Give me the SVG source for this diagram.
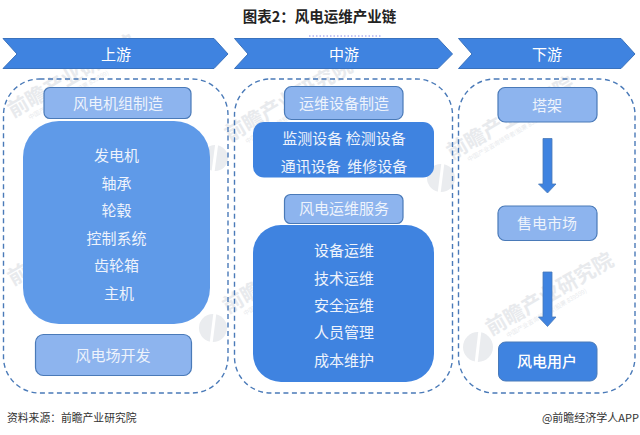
<svg xmlns="http://www.w3.org/2000/svg" width="640" height="435" viewBox="0 0 640 435">
<style>
text{font-family:"Noto Sans CJK SC","Noto Sans",sans-serif;text-anchor:middle}
.chev{fill:#3f83e0;stroke:#3a72bd;stroke-width:1}
.dash{fill:none;stroke:#4a7ab8;stroke-width:1.4;stroke-dasharray:5 3.500}
.light{fill:#8db4ee;stroke:#4a7ab8;stroke-width:1.2}
.mid{fill:#5f9ae8}
.deep{fill:#3f83e0}
.t{fill:#eef3fc;font-size:15px}
.h{fill:#fff;font-size:15px}
.arrow{fill:#3f83e0;stroke:#4a7ab8;stroke-width:.8}
.wm{fill:#e8eaed;font-size:20.500px;font-weight:700;text-anchor:start}
.wms{fill:#e8eaed;font-size:6px;text-anchor:start}
.logo{fill:#eaecef}
.cut{stroke:#fff;stroke-width:3;fill:none}
</style>
<rect width="640" height="435" fill="#fff"/>
<g id="watermark">
<g transform="translate(13,118) rotate(-30)"><text class="wm">前瞻产业研究院</text><text class="wms" x="14" y="10">中国产业咨询领导者(股票 839599)</text></g>
<g transform="translate(13,286) rotate(-30)"><text class="wm">前瞻产业研究院</text><text class="wms" x="14" y="10">中国产业咨询领导者(股票 839599)</text></g>
<g transform="translate(230,142) rotate(-30)"><text class="wm">前瞻产业研究院</text><text class="wms" x="14" y="10">中国产业咨询领导者(股票 839599)</text></g>
<g transform="translate(228,314) rotate(-30)"><text class="wm">前瞻产业研究院</text><text class="wms" x="14" y="10">中国产业咨询领导者(股票 839599)</text></g>
<g transform="translate(452,160) rotate(-30)"><text class="wm">前瞻产业研究院</text><text class="wms" x="14" y="10">中国产业咨询领导者(股票 839599)</text></g>
<g transform="translate(491,336) rotate(-30)"><text class="wm">前瞻产业研究院</text><text class="wms" x="14" y="10">中国产业咨询领导者(股票 839599)</text></g>
<g id="wm-logos">
<circle class="logo" cx="215" cy="158" r="13"/><path class="cut" d="M217 142L213 172"/>
<circle class="logo" cx="213" cy="328" r="14"/><path class="cut" d="M215 312L211 344"/>
<circle class="logo" cx="441" cy="178" r="14"/><path class="cut" d="M443 162L439 194"/>
<circle class="logo" cx="478" cy="347" r="15"/><path class="cut" d="M480 330L476 364"/>
</g>
<rect x="0" y="398" width="640" height="37" fill="#fff"/>
</g>
<text x="319.500" y="22" style="font-size:14.500px;font-weight:700;fill:#222">图表2：风电运维产业链</text>
<path d="M309 36H382" stroke="#8a8ae8" stroke-width="1" stroke-dasharray="1.500 2" fill="none"/>
<g id="connectors">
<path class="arrow" d="M543 138.500H552V184H556L547.500 193L538.500 184H543Z"/>
<path class="arrow" d="M543 272H552V317H556L547.500 326.500L538.500 317H543Z"/>
</g>
<g id="stage-up"><path class="chev" d="M3 38.500H214L228 54L214 68.500H3L17 54Z"/><text class="h" x="116" y="59.500">上游</text></g>
<g id="stage-mid"><path class="chev" d="M234.500 38.500H438L452.500 54L438 68.500H234.500L248 54Z"/><text class="h" x="344" y="59.500">中游</text></g>
<g id="stage-down"><path class="chev" d="M458.500 38.500H621L635 54L621 68.500H458.500L472 54Z"/><text class="h" x="547" y="59.500">下游</text></g>
<g id="zone-up"><rect class="dash" x="3.500" y="79" width="224.500" height="314" rx="36"/></g>
<g id="zone-mid"><rect class="dash" x="234.500" y="79" width="218" height="314" rx="36"/></g>
<g id="zone-down"><rect class="dash" x="458.500" y="79" width="176.500" height="314" rx="36"/></g>
<g id="n1"><rect class="light" x="44" y="87.500" width="147" height="31" rx="6"/><text class="t" x="118" y="109">风电机组制造</text></g>
<g id="n2"><rect class="mid" x="23" y="121" width="187" height="203" rx="36"/>
<text class="t" x="116.500" y="161">发电机</text><text class="t" x="116.500" y="189">轴承</text><text class="t" x="116.500" y="216">轮毂</text><text class="t" x="116.500" y="244">控制系统</text><text class="t" x="116.500" y="271">齿轮箱</text><text class="t" x="119" y="299">主机</text></g>
<g id="n3"><rect class="light" x="35.500" y="334.500" width="156" height="41" rx="8"/><text class="t" x="113" y="361">风电场开发</text></g>
<g id="n4"><rect class="light" x="284.500" y="86.500" width="118.500" height="33" rx="7"/><text class="t" x="344" y="109">运维设备制造</text></g>
<g id="n5"><rect class="deep" x="253" y="122" width="181" height="55.500" rx="11"/>
<text class="t" x="344" y="144">监测设备 检测设备</text><text class="t" x="344" y="172">通讯设备&#160;&#160;维修设备</text></g>
<g id="n6"><rect class="light" x="284.500" y="194.500" width="118.500" height="29" rx="6"/><text class="t" x="344" y="214">风电运维服务</text></g>
<g id="n7"><rect class="deep" x="253" y="225" width="181" height="157" rx="28"/>
<text class="t" x="344" y="256">设备运维</text><text class="t" x="344" y="284">技术运维</text><text class="t" x="344" y="311">安全运维</text><text class="t" x="344" y="338">人员管理</text><text class="t" x="344" y="366">成本维护</text></g>
<g id="n8"><rect class="light" x="498" y="87.500" width="99" height="34.500" rx="7"/><text class="t" x="547" y="111">塔架</text></g>
<g id="n9"><rect class="light" x="498" y="206" width="99" height="34.500" rx="7"/><text class="t" x="547" y="229">售电市场</text></g>
<g id="n10"><rect class="deep" stroke="#4a7ab8" stroke-width="1" x="498.500" y="342" width="98.500" height="39" rx="7"/><text class="h" x="547" y="367" style="font-weight:500">风电用户</text></g>
<text x="7" y="422" style="font-size:10.800px;text-anchor:start;fill:#333">资料来源：前瞻产业研究院</text>
<text x="639" y="422" style="font-size:11px;text-anchor:end;fill:#333">@前瞻经济学人APP</text>
</svg>
